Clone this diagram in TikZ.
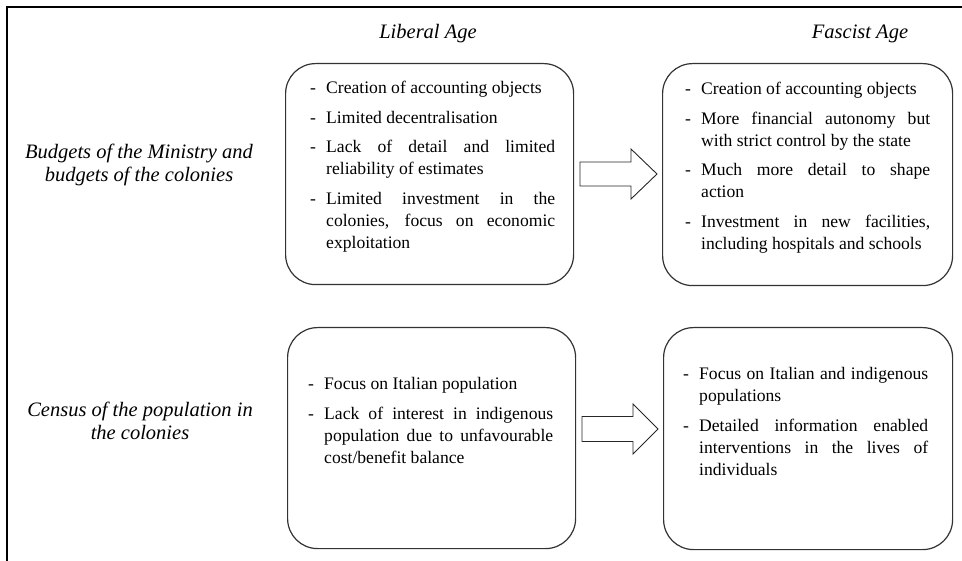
\documentclass[tikz,border=0pt]{standalone}
\usepackage{fontspec}
\setmainfont{Liberation Serif}
\usetikzlibrary{calc}
\hyphenpenalty=10000
\exhyphenpenalty=10000
\newcommand{\dashitem}[1]{\noindent\hangindent=16pt\hangafter=1\makebox[16pt][l]{-}#1\par}
\newcommand{\itemgap}{\vspace{7.5pt}}
\begin{document}
\begin{tikzpicture}[x=1pt,y=-1pt,
  roundbox/.style={draw=black!80, line width=1.2pt, rounded corners=30pt, inner sep=0pt, anchor=north west},
  bodytext/.style={anchor=base west, inner sep=0pt, text width=245pt, align=justify,
    font=\fontsize{17.6}{22}\selectfont},
  blockarrow/.style={draw=black!85, line width=0.9pt, line join=miter},
  sidelabel/.style={font=\fontsize{20.5}{23}\selectfont\itshape, align=center, inner sep=0pt},
  agelabel/.style={font=\fontsize{20.5}{23}\selectfont\itshape, anchor=base, inner sep=0pt}]
\useasboundingbox (0,0) rectangle (962,561);
\draw[line width=2.6pt] (7,570) -- (7,7) -- (970,7);

% headings
\node[agelabel] (lib) at (428,39) {Liberal Age};
\node[agelabel] (fas) at (860,39) {Fascist Age};

% side labels
\node[sidelabel] (lab1) at (139,165) {Budgets of the Ministry and\\budgets of the colonies};
\node[sidelabel] (lab2) at (140,421) {Census of the population in\\the colonies};

% boxes
\node[roundbox, minimum width=288pt, minimum height=221pt] (b1) at (285,63) {};
\node[roundbox, minimum width=290pt, minimum height=222pt] (b2) at (662,63) {};
\node[roundbox, minimum width=288pt, minimum height=221pt] (b3) at (287,327) {};
\node[roundbox, minimum width=289pt, minimum height=222pt] (b4) at (663,327) {};

% texts
\node[bodytext] (t1) at (310,94) {%
\dashitem{Creation of accounting objects}\itemgap
\dashitem{Limited decentralisation}\itemgap
\dashitem{Lack of detail and limited\linebreak reliability of estimates}\itemgap
\dashitem{Limited investment in the\linebreak colonies, focus on economic\linebreak exploitation}};

\node[bodytext] (t2) at (685,95) {%
\dashitem{Creation of accounting objects}\itemgap
\dashitem{More financial autonomy but\linebreak with strict control by the state}\itemgap
\dashitem{Much more detail to shape\linebreak action}\itemgap
\dashitem{Investment in new facilities,\linebreak including hospitals and schools}};

\node[bodytext] (t3) at (308,390) {%
\dashitem{Focus on Italian population}\itemgap
\dashitem{Lack of interest in indigenous\linebreak population due to unfavourable\linebreak cost/benefit balance}};

\node[bodytext] (t4) at (683,380) {%
\dashitem{Focus on Italian and indigenous\linebreak populations}\itemgap
\dashitem{Detailed information enabled\linebreak interventions in the lives of\linebreak individuals}};

% block arrows
\coordinate (a1) at (580,174);
\coordinate (a2) at (582,429);
\draw[blockarrow] ($(a1)+(0,-12)$) -- ++(51,0) -- ++(0,-13) -- ++(26,25) -- ++(-26,25) -- ++(0,-13) -- ++(-51,0) -- cycle;
\draw[blockarrow] ($(a2)+(0,-12.5)$) -- ++(51,0) -- ++(0,-12.5) -- ++(25,25) -- ++(-25,25) -- ++(0,-12.5) -- ++(-51,0) -- cycle;
\end{tikzpicture}
\end{document}
